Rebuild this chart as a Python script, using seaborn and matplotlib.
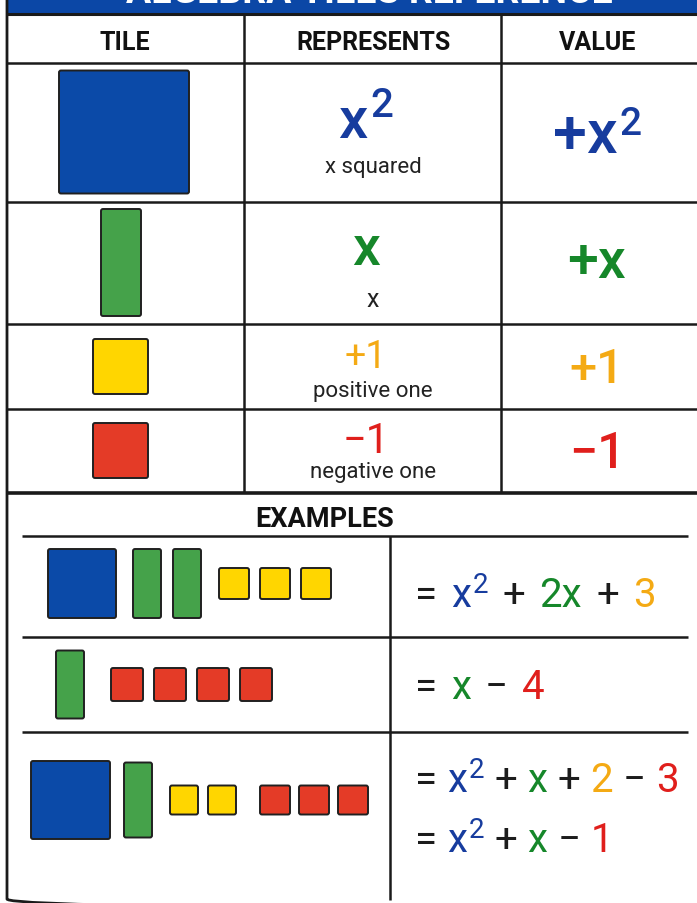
import matplotlib
matplotlib.use("Agg")
import matplotlib.pyplot as plt
import seaborn as sns
from matplotlib.patches import FancyBboxPatch, Rectangle

# ---------------- data ----------------
title = "ALGEBRA TILES REFERENCE"
headers = ["TILE", "REPRESENTS", "VALUE"]
tile_kinds = ["x2", "x", "pos", "neg"]
rep_symbols = [[("x", 0), ("2", 1)], [("x", 0)], [("+1", 0)], [("\u22121", 0)]]
rep_words = ["x squared", "x", "positive one", "negative one"]
value_symbols = [[("+x", 0), ("2", 1)], [("+x", 0)], [("+1", 0)], [("\u22121", 0)]]
examples_title = "EXAMPLES"
ex_x2 = [1, 0, 1]
ex_x = [2, 1, 1]
ex_pos = [3, 0, 2]
ex_neg = [0, 4, 3]
# equations: (text, colour key, superscript?)
equations = [
    [[("=", "k", 0), ("x", "x2", 0), ("2", "x2", 1), ("+", "k", 0), ("2x", "x", 0), ("+", "k", 0), ("3", "pos", 0)]],
    [[("=", "k", 0), ("x", "x", 0), ("\u2212", "k", 0), ("4", "neg", 0)]],
    [[("=", "k", 0), ("x", "x2", 0), ("2", "x2", 1), ("+", "k", 0), ("x", "x", 0), ("+", "k", 0),
      ("2", "pos", 0), ("\u2212", "k", 0), ("3", "neg", 0)],
     [("=", "k", 0), ("x", "x2", 0), ("2", "x2", 1), ("+", "k", 0), ("x", "x", 0), ("\u2212", "k", 0), ("1", "neg", 0)]],
]

# ---------------- style ----------------
sns.set_theme(style="white")
plt.rcParams['font.family'] = ['Roboto', 'DejaVu Sans']

tile_fill = dict(zip(tile_kinds, sns.color_palette(["#0b4aa8", "#45a24a", "#ffd600", "#e43b27"])))
text_col = {"x2": "#173c9e", "x": "#16872a", "pos": "#f4aa14", "neg": "#e01f1c", "k": "#1c1c1c"}
LINE = "#1a1a1a"

W, H = 697, 904
fig = plt.figure(figsize=(W / 100, H / 100), dpi=100)
fig.patch.set_facecolor("white")
ax = fig.add_axes([0, 0, 1, 1])
ax.set_xlim(0, W)
ax.set_ylim(H, 0)
ax.axis("off")
R = fig.canvas.get_renderer()


def hline(y, x0, x1, lw=1.8):
    ax.plot([x0, x1], [y, y], color=LINE, lw=lw, solid_capstyle="butt")


def vline(x, y0, y1, lw=1.8):
    ax.plot([x, x], [y0, y1], color=LINE, lw=lw, solid_capstyle="butt")


def tile(kind, cx, cy, w, h):
    ax.add_patch(FancyBboxPatch((cx - w / 2, cy - h / 2), w, h,
                                boxstyle="round,pad=0,rounding_size=2",
                                fc=tile_fill[kind], ec="#202020", lw=1.4))


def run(x, y, pieces, align="left"):
    """pieces: (text, color, size, weight, raise, gap_before)"""
    arts, cx = [], 0.0
    for i, (s, c, fs, wt, dy, g) in enumerate(pieces):
        if i > 0:
            cx += g
        t = ax.text(cx, y - dy, s, color=c, fontsize=fs, fontweight=wt,
                    va="baseline", ha="left")
        bb = t.get_window_extent(R)
        arts.append((t, cx))
        cx += bb.width
    off = x - cx / 2 if align == "center" else x
    for t, px in arts:
        t.set_x(px + off)


# ---------------- frame ----------------
banner = Rectangle((7, -10), W, 25, fc="#0b47a6", ec="none")
ax.add_patch(banner)
bt = ax.text(369, 3, title, color="white", fontsize=27, fontweight="bold",
             ha="center", va="baseline")
bt.set_clip_path(banner)

outer = FancyBboxPatch((7, -30), W + 40, 940, boxstyle="round,pad=0,rounding_size=10",
                       fc="none", ec=LINE, lw=2)
ax.add_patch(outer)

hline(15, 7, W, 2.2)
hline(64, 7, W)
for yy in [202.5, 325, 410]:
    hline(yy, 7, W)
hline(494, 7, W, 2.6)
vline(244, 15, 494)
vline(501, 15, 494)

# headers
col_cx = [125, 373, 598]
for hx, txt in zip(col_cx, headers):
    ax.text(hx, 50, txt, fontsize=18, fontweight="bold", color="#111111",
            ha="center", va="baseline")

# ---------------- reference rows ----------------
row_cy = [133, 263.5, 367.5, 451.5]
ref_size = {"x2": (130, 123), "x": (40, 107), "pos": (55, 55), "neg": (55, 55)}
ref_tx = {"x2": 124, "x": 121, "pos": 120.5, "neg": 120.5}
for k, cy in zip(tile_kinds, row_cy):
    tile(k, ref_tx[k], cy, *ref_size[k])

# represents column
rep_main = [(42, 138, "medium", 29, 21), (40, 265, "medium", 0, 0),
            (27, 368, "normal", 0, 0), (30, 453, "normal", 0, 0)]
word_base = [173, 307, 397, 478]
word_size = [16, 18, 16, 16]
for k, sym, (fs, base, wt, sfs, sdy), wb, wfs, word in zip(
        tile_kinds, rep_symbols, rep_main, word_base, word_size, rep_words):
    pieces = []
    for s, sup in sym:
        if sup:
            pieces.append((s, text_col[k], sfs, wt, sdy, 3))
        else:
            pieces.append((s, text_col[k], fs, wt, 0, 0))
    run(366, base, pieces, align="center")
    ax.text(373, wb, word, fontsize=wfs, color="#222222", ha="center", va="baseline")

# value column
val_main = [(44, 153, 28, 18), (40, 278, 0, 0), (35, 383, 0, 0), (36, 468, 0, 0)]
for k, sym, (fs, base, sfs, sdy) in zip(tile_kinds, value_symbols, val_main):
    pieces = []
    for s, sup in sym:
        if sup:
            pieces.append((s, text_col[k], sfs, "medium", sdy, 2))
        else:
            pieces.append((s, text_col[k], fs, "medium", 0, 0))
    run(597, base, pieces, align="center")

# ---------------- examples ----------------
ax.text(325, 527, examples_title, fontsize=19.5, fontweight="bold", color="#111111",
        ha="center", va="baseline")
hline(537, 22, 688)
hline(638, 22, 688)
hline(733, 22, 688)
vline(390, 537, 901)

ex_layout = [
    dict(x0=48, yc=584.5, size={"x2": (68, 69), "x": (28, 69), "pos": (30, 31), "neg": (30, 31)},
         gap={"x2": 12, "x": 12, "pos": 11, "neg": 11}, ggap=[17, 18], eqgap=14),
    dict(x0=56, yc=685.5, size={"x2": (68, 69), "x": (28, 68), "pos": (32, 33), "neg": (32, 33)},
         gap={"x2": 11, "x": 11, "pos": 11, "neg": 11}, ggap=[27], eqgap=14),
    dict(x0=31, yc=801, size={"x2": (79, 78), "x": (28, 75), "pos": (28, 29), "neg": (30, 29)},
         gap={"x2": 10, "x": 10, "pos": 10, "neg": 9}, ggap=[14, 18, 24], eqgap=10),
]
eq_base = [[607], [699], [792, 852]]

for i, lay in enumerate(ex_layout):
    counts = {"x2": ex_x2[i], "x": ex_x[i], "pos": ex_pos[i], "neg": ex_neg[i]}
    x = lay["x0"]
    gi = 0
    first = True
    for k in tile_kinds:
        n = counts[k]
        if n == 0:
            continue
        if not first:
            x += lay["ggap"][gi]
            gi += 1
        first = False
        w, h = lay["size"][k]
        for j in range(n):
            if j > 0:
                x += lay["gap"][k]
            tile(k, x + w / 2, lay["yc"], w, h)
            x += w
    for eq, yb in zip(equations[i], eq_base[i]):
        pieces = []
        for s, ck, sup in eq:
            if sup:
                pieces.append((s, text_col[ck], 20, "normal", 14, 2))
            else:
                pieces.append((s, text_col[ck], 29, "normal", 0, lay["eqgap"]))
        run(415, yb, pieces)

fig.savefig("out.png", dpi=100, facecolor="white")
